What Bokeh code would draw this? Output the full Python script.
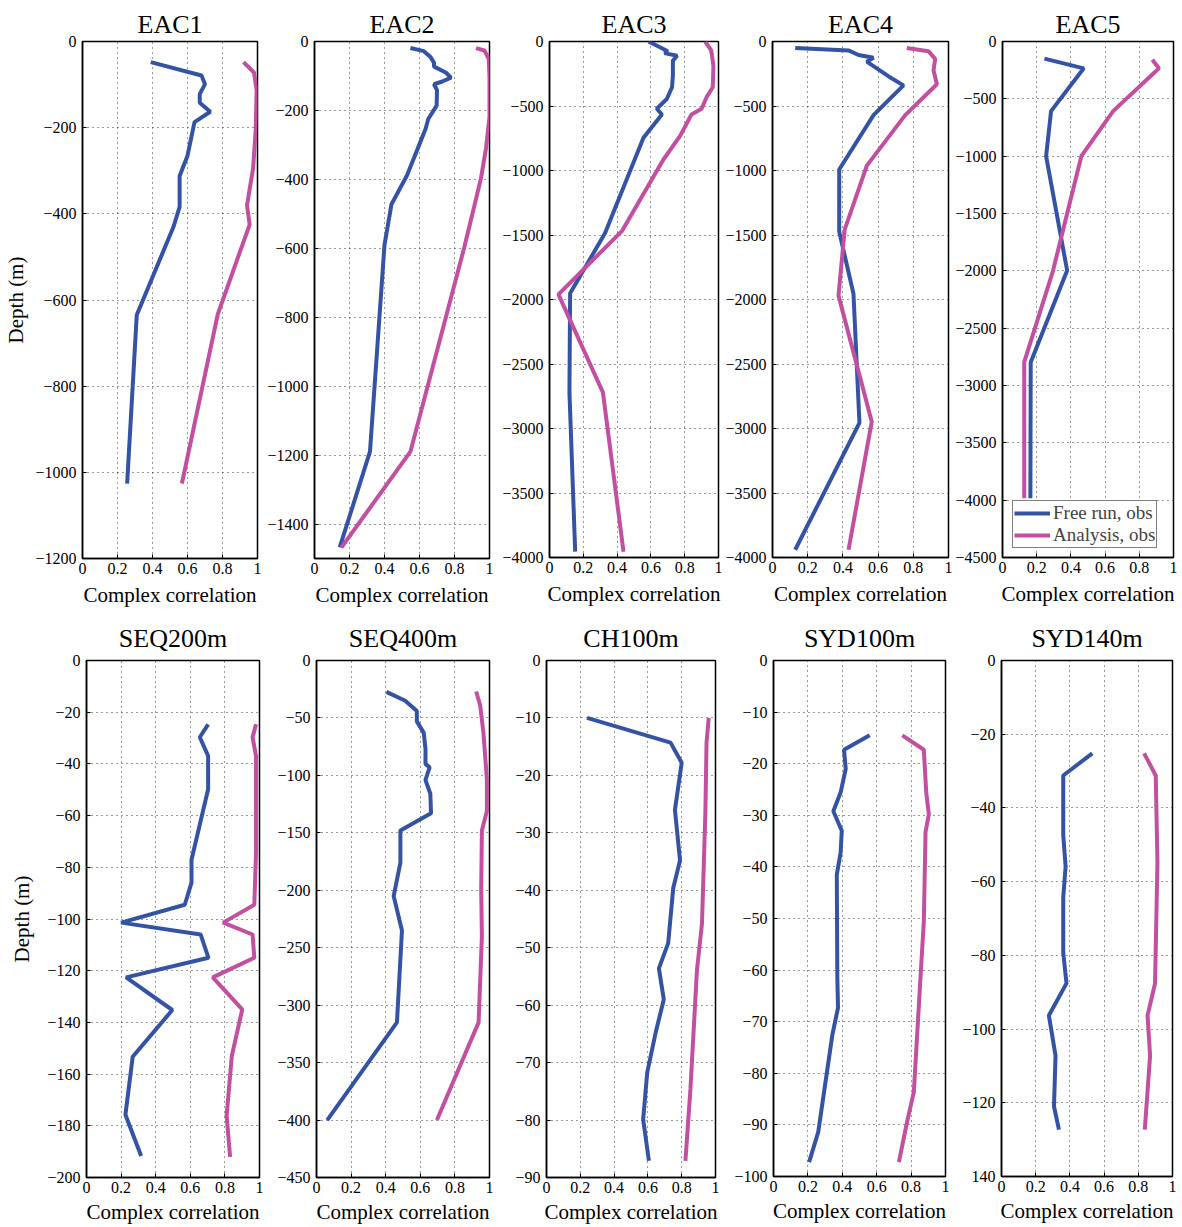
from bokeh.plotting import figure
from bokeh.layouts import row, column
from bokeh.models import FixedTicker, CustomJSTickFormatter, Legend, LegendItem
from bokeh.embed import file_html
from bokeh.resources import INLINE

FONT = "Liberation Serif"
BLUE = "#3553A4"
MAG = "#C24FA0"

x_ticks = [0, 0.2, 0.4, 0.6, 0.8, 1]

# ---------------- data (depth in m, complex correlation) ----------------
eac1_free_depth = [-48, -79, -99, -122, -142, -163, -187, -265, -312, -384, -430, -635, -1026]
eac1_free = [0.39, 0.68, 0.70, 0.67, 0.67, 0.73, 0.64, 0.60, 0.555, 0.555, 0.52, 0.31, 0.255]
eac1_ana_depth = [-48, -72, -113, -203, -294, -380, -425, -633, -1026]
eac1_ana = [0.92, 0.98, 0.995, 0.99, 0.975, 0.94, 0.955, 0.773, 0.568]

eac2_free_depth = [-19, -28, -45, -62, -73, -90, -105, -116, -124, -141, -186, -225, -253, -388, -472, -590, -1190, -1468]
eac2_free = [0.548, 0.625, 0.663, 0.683, 0.683, 0.75, 0.78, 0.73, 0.683, 0.70, 0.698, 0.65, 0.635, 0.529, 0.44, 0.40, 0.317, 0.144]
eac2_ana_depth = [-19, -26, -51, -107, -220, -310, -395, -478, -597, -1190, -1468]
eac2_ana = [0.923, 0.971, 0.996, 1.0, 1.0, 0.98, 0.952, 0.913, 0.856, 0.548, 0.154]

eac3_free_depth = [0, -39, -75, -90, -110, -150, -265, -355, -446, -521, -566, -747, -1485, -1952, -2720, -3955]
eac3_free = [0.586, 0.645, 0.70, 0.68, 0.755, 0.73, 0.73, 0.725, 0.694, 0.635, 0.665, 0.556, 0.329, 0.122, 0.118, 0.152]
eac3_ana_depth = [0, -69, -190, -355, -430, -521, -566, -732, -913, -1470, -1960, -2720, -3955]
eac3_ana = [0.921, 0.957, 0.97, 0.966, 0.93, 0.90, 0.84, 0.773, 0.675, 0.428, 0.053, 0.316, 0.438]

eac4_free_depth = [-51, -69, -105, -126, -156, -271, -340, -571, -992, -1474, -1955, -2956, -3940]
eac4_free = [0.129, 0.432, 0.489, 0.574, 0.536, 0.66, 0.744, 0.574, 0.379, 0.379, 0.46, 0.494, 0.129]
eac4_ana_depth = [-51, -75, -135, -225, -331, -571, -962, -1459, -1970, -2947, -3940]
eac4_ana = [0.763, 0.886, 0.924, 0.915, 0.934, 0.754, 0.536, 0.41, 0.375, 0.564, 0.432]

eac5_free_depth = [-149, -234, -607, -1000, -1997, -2797, -3984]
eac5_free = [0.245, 0.475, 0.284, 0.255, 0.378, 0.165, 0.163]
eac5_ana_depth = [-159, -234, -607, -1000, -2007, -2797, -3984]
eac5_ana = [0.876, 0.915, 0.647, 0.461, 0.294, 0.127, 0.127]

seq200_free_depth = [-24.7, -29.7, -36.9, -49.8, -77.1, -85.9, -94.5, -101.4, -106, -115, -122.6, -135.2, -153.3, -175.7, -191.7]
seq200_free = [0.703, 0.655, 0.703, 0.703, 0.607, 0.607, 0.568, 0.20, 0.66, 0.705, 0.229, 0.496, 0.267, 0.225, 0.316]
seq200_ana_depth = [-24.7, -29.7, -37, -74, -94.5, -101.4, -106, -115, -122.6, -135, -153, -176, -192]
seq200_ana = [0.98, 0.96, 0.98, 0.98, 0.97, 0.79, 0.96, 0.97, 0.73, 0.90, 0.84, 0.81, 0.83]

seq400_free_depth = [-27.3, -35, -44, -53, -63, -77, -90, -93, -104, -116, -133, -148, -176, -205, -235, -315, -400]
seq400_free = [0.404, 0.513, 0.58, 0.58, 0.62, 0.63, 0.63, 0.654, 0.63, 0.658, 0.662, 0.485, 0.485, 0.446, 0.494, 0.465, 0.062]
seq400_ana_depth = [-27, -39, -63, -104, -131, -148, -199, -240, -315, -400]
seq400_ana = [0.923, 0.946, 0.965, 0.985, 0.985, 0.956, 0.952, 0.956, 0.937, 0.696]

ch100_free_depth = [-10, -14.3, -17.8, -26, -34.8, -39.6, -49.2, -53.6, -59, -64.9, -71.7, -79.9, -87.1]
ch100_free = [0.24, 0.734, 0.80, 0.76, 0.79, 0.75, 0.72, 0.665, 0.694, 0.645, 0.596, 0.572, 0.606]
ch100_ana_depth = [-10, -14.3, -26.6, -45.8, -54, -74.5, -87.1]
ch100_ana = [0.96, 0.947, 0.94, 0.92, 0.89, 0.852, 0.822]

syd100_free_depth = [-14.5, -17.3, -21, -25.6, -29.2, -33, -37.3, -41.5, -61.2, -67.3, -72.6, -91.4, -97.2]
syd100_free = [0.559, 0.41, 0.42, 0.39, 0.348, 0.397, 0.39, 0.368, 0.371, 0.375, 0.342, 0.26, 0.207]
syd100_ana_depth = [-14.5, -17.3, -25.6, -29.8, -33.2, -50.6, -61.2, -83.6, -89.2, -97.2]
syd100_ana = [0.749, 0.874, 0.888, 0.903, 0.884, 0.874, 0.855, 0.816, 0.778, 0.729]

syd140_free_depth = [-25.2, -31.2, -47.4, -55.9, -64.3, -79.2, -87.6, -96.3, -107.2, -121, -127.3]
syd140_free = [0.531, 0.361, 0.361, 0.375, 0.361, 0.361, 0.38, 0.277, 0.316, 0.307, 0.336]
syd140_ana_depth = [-25.2, -31.2, -54.8, -87.6, -96.3, -107.2, -127.3]
syd140_ana = [0.834, 0.902, 0.912, 0.898, 0.854, 0.869, 0.838]

titles = ["EAC1", "EAC2", "EAC3", "EAC4", "EAC5",
          "SEQ200m", "SEQ400m", "CH100m", "SYD100m", "SYD140m"]
y_bottoms = [-1200, -1500, -4000, -4000, -4500, -200, -450, -90, -100, -140]
y_steps = [200, 200, 500, 500, 500, 20, 50, 10, 10, 20]
y_last_tick = [-1200, -1400, -4000, -4000, -4500, -200, -450, -90, -100, -140]

series = [
    (eac1_free, eac1_free_depth, eac1_ana, eac1_ana_depth),
    (eac2_free, eac2_free_depth, eac2_ana, eac2_ana_depth),
    (eac3_free, eac3_free_depth, eac3_ana, eac3_ana_depth),
    (eac4_free, eac4_free_depth, eac4_ana, eac4_ana_depth),
    (eac5_free, eac5_free_depth, eac5_ana, eac5_ana_depth),
    (seq200_free, seq200_free_depth, seq200_ana, seq200_ana_depth),
    (seq400_free, seq400_free_depth, seq400_ana, seq400_ana_depth),
    (ch100_free, ch100_free_depth, ch100_ana, ch100_ana_depth),
    (syd100_free, syd100_free_depth, syd100_ana, syd100_ana_depth),
    (syd140_free, syd140_free_depth, syd140_ana, syd140_ana_depth),
]

# layout geometry: (border_left, frame_w, border_right, border_top, frame_h, border_bottom)
geom = [
    (82, 175, 4, 41, 517, 54),
    (53, 175, 4, 41, 517, 54),
    (56, 169, 4, 37, 516, 59),
    (50, 176, 4, 40, 516, 56),
    (50, 171, 4, 40, 516, 56),
    (86, 173, 4, 47, 517, 50),
    (53, 173, 4, 48, 517, 49),
    (53, 169, 4, 43, 517, 54),
    (54, 172, 4, 47, 516, 51),
    (52, 171, 4, 47, 516, 51),
]

X_FMT = CustomJSTickFormatter(code="""
if (Math.abs(tick) < 1e-9) return "0";
if (Math.abs(tick - 1) < 1e-9) return "1";
return tick.toFixed(1);
""")


def y_formatter(special_last):
    code = """
if (Math.abs(tick) < 1e-9) return "0";
"""
    if special_last is not None:
        code += 'if (Math.abs(tick - (%d)) < 1e-9) return "%d";\n' % (special_last, -special_last)
    code += """
if (tick < 0) return "\\u2212" + String(Math.round(-tick));
return String(tick);
"""
    return CustomJSTickFormatter(code=code)


figs = []
for i in range(10):
    bl, fw, br, bt, fh, bb = geom[i]
    row2 = i >= 5
    p = figure(frame_width=fw, frame_height=fh,
               min_border_left=bl, min_border_right=br,
               min_border_top=bt, min_border_bottom=bb,
               x_range=(0, 1), y_range=(y_bottoms[i], 0),
               output_backend="svg", toolbar_location=None,
               background_fill_color="white", border_fill_color="white")
    p.title.text = titles[i]
    p.title.align = "center"
    p.title.text_font = FONT
    p.title.text_font_size = "26px"
    p.title.text_font_style = "normal"
    p.title.text_color = "black"
    p.title.standoff = 15 if row2 else 5

    yt = list(range(0, y_last_tick[i] - 1, -y_steps[i]))
    p.yaxis.ticker = FixedTicker(ticks=yt)
    p.xaxis.ticker = FixedTicker(ticks=x_ticks)
    p.xaxis.formatter = X_FMT
    p.yaxis.formatter = y_formatter(-140 if titles[i] == "SYD140m" else None)

    for ax in (p.xaxis, p.yaxis):
        ax.major_label_text_font = FONT
        ax.major_label_text_font_size = "16px"
        ax.major_label_text_color = "black"
        ax.major_tick_in = 4
        ax.major_tick_out = 0
        ax.minor_tick_in = 0
        ax.minor_tick_out = 0
        ax.axis_line_color = "black"
        ax.axis_line_width = 1.5
        ax.major_tick_line_color = "black"
        ax.axis_label_text_font = FONT
        ax.axis_label_text_font_style = "normal"
        ax.axis_label_text_color = "black"
        ax.axis_label_text_font_size = "21px"
    p.yaxis.major_label_standoff = 6
    p.xaxis.major_label_standoff = 4
    p.xaxis.axis_label = "Complex correlation"
    p.xaxis.axis_label_standoff = 4 if row2 else 6
    if i in (0, 5):
        p.yaxis.axis_label = "Depth (m)"
        p.yaxis.axis_label_standoff = 4 if i == 0 else 10

    p.outline_line_color = "black"
    p.outline_line_width = 1.5
    p.outline_line_alpha = 1.0
    for g in (p.xgrid, p.ygrid):
        g.grid_line_color = "black"
        g.grid_line_dash = "1 4"
        g.grid_line_width = 1
        g.grid_line_alpha = 0.8
    p.xgrid.ticker = FixedTicker(ticks=x_ticks)
    p.ygrid.ticker = FixedTicker(ticks=yt)

    fx, fd, ax_, ad = series[i]
    r1 = p.line(fx, fd, line_color=BLUE, line_width=4)
    r2 = p.line(ax_, ad, line_color=MAG, line_width=4)

    if titles[i] == "EAC5":
        leg = Legend(items=[LegendItem(label="Free run, obs", renderers=[r1]),
                            LegendItem(label="Analysis, obs", renderers=[r2])],
                     location=(10, 9))
        leg.label_text_font = FONT
        leg.label_text_font_size = "19px"
        leg.label_height = 16
        leg.glyph_height = 16
        leg.glyph_width = 36
        leg.label_standoff = 3
        leg.spacing = 0
        leg.padding = 1
        leg.margin = 0
        leg.border_line_color = "black"
        leg.border_line_width = 1
        leg.background_fill_alpha = 1
        p.add_layout(leg)

    figs.append(p)

layout = column(row(*figs[:5], spacing=0), row(*figs[5:], spacing=0), spacing=0)
open("out.html", "w").write(file_html(layout, INLINE))
